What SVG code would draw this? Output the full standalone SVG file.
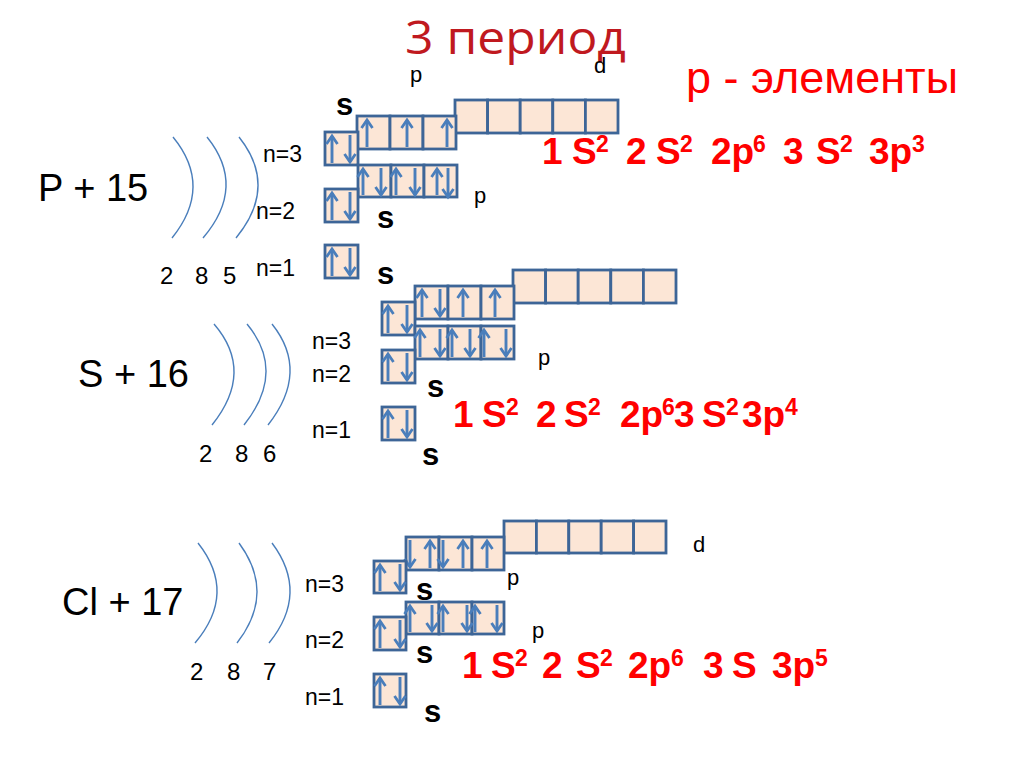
<svg xmlns="http://www.w3.org/2000/svg" width="1024" height="767" viewBox="0 0 1024 767">
<defs>
<marker id="ah" markerUnits="userSpaceOnUse" viewBox="-11 -8 14 16" markerWidth="14" markerHeight="16" refX="0" refY="0" orient="auto">
<path d="M-8,-5.5 L0,0 L-8,5.5" fill="none" stroke="#4A7EBB" stroke-width="2.8" stroke-linejoin="miter"/>
</marker>
</defs>
<style>
.bx{fill:#FCE6D6;stroke:#3D6597;stroke-width:2.8}
.ar{stroke:#4A7EBB;stroke-width:2.9;marker-end:url(#ah)}
.arc{fill:none;stroke:#4A7EBB;stroke-width:1.4}
.el{font-family:"Liberation Sans",Arial,sans-serif;font-size:38px;fill:#000}
.num{font-family:"Liberation Sans",Arial,sans-serif;font-size:24px;fill:#000}
.n{font-family:"Liberation Sans",Arial,sans-serif;font-size:23px;fill:#000}
.sl{font-family:"Liberation Sans",Arial,sans-serif;font-size:31px;font-weight:bold;fill:#000}
.pl{font-family:"Liberation Sans",Arial,sans-serif;font-size:22px;fill:#000}
.f{font-family:"Liberation Sans",Arial,sans-serif;font-size:37px;font-weight:bold;fill:#FF0000}
.fs{font-family:"Liberation Sans",Arial,sans-serif;font-size:23px;font-weight:bold;fill:#FF0000}
</style>
<rect width="1024" height="767" fill="#fff"/>
<g id="title">
<text x="405" y="54" font-family="'Open Sans','Noto Sans',sans-serif" font-size="45" fill="#C0191F" textLength="221" lengthAdjust="spacingAndGlyphs">3 период</text>
<text x="686" y="93" font-family="'Liberation Sans',Arial,sans-serif" font-size="44" fill="#FF0000" textLength="272" lengthAdjust="spacingAndGlyphs">p - элементы</text>
</g>
<g id="shells">
<path class="arc" d="M173,137 Q213.5,186.5 172,238"/>
<path class="arc" d="M207,137 Q247,186.5 203,238"/>
<path class="arc" d="M239,137 Q278.5,186.5 236,238"/>
<path class="arc" d="M214,324 Q255,371.5 212,425"/>
<path class="arc" d="M247,324 Q286.5,371.5 244,425"/>
<path class="arc" d="M272,324 Q310,371.5 268,425"/>
<path class="arc" d="M198,543 Q237.5,593 195,643"/>
<path class="arc" d="M239,543 Q276,593 237,643"/>
<path class="arc" d="M272,543 Q309.5,593 269,643"/>
</g>
<g id="atom-P">
<text class="el" x="38" y="201">P + 15</text>
<text class="num" x="160" y="284">2</text><text class="num" x="195" y="284">8</text><text class="num" x="223" y="284">5</text>
<text class="n" x="263" y="162">n=3</text>
<text class="n" x="256" y="219">n=2</text>
<text class="n" x="256" y="276">n=1</text>
<g id="P-3d">
<rect class="bx" x="455" y="100" width="32.6" height="33"/>
<rect class="bx" x="487.6" y="100" width="32.6" height="33"/>
<rect class="bx" x="520.2" y="100" width="32.6" height="33"/>
<rect class="bx" x="552.8" y="100" width="32.6" height="33"/>
<rect class="bx" x="585.4" y="100" width="32.6" height="33"/>
</g>
<g id="P-3p">
<rect class="bx" x="357" y="116" width="33" height="33"/>
<rect class="bx" x="390" y="116" width="33" height="33"/>
<rect class="bx" x="423" y="116" width="33" height="33"/>
<line class="ar" x1="367" y1="147" x2="367" y2="120"/>
<line class="ar" x1="407" y1="147" x2="407" y2="120"/>
<line class="ar" x1="447" y1="147" x2="447" y2="120"/>
</g>
<g id="P-3s">
<rect class="bx" x="325" y="132" width="33" height="33"/>
<line class="ar" x1="332" y1="163" x2="332" y2="136"/>
<line class="ar" x1="350" y1="135" x2="350" y2="162"/>
</g>
<g id="P-2p">
<rect class="bx" x="358" y="165" width="33" height="32"/>
<rect class="bx" x="391" y="165" width="33" height="32"/>
<rect class="bx" x="424" y="165" width="33" height="32"/>
<line class="ar" x1="363" y1="195" x2="363" y2="169"/>
<line class="ar" x1="381" y1="168" x2="381" y2="195"/>
<line class="ar" x1="396" y1="195" x2="396" y2="169"/>
<line class="ar" x1="415" y1="168" x2="415" y2="195"/>
<line class="ar" x1="437" y1="195" x2="437" y2="169"/>
<line class="ar" x1="448" y1="168" x2="448" y2="197"/>
</g>
<g id="P-2s">
<rect class="bx" x="325" y="189" width="33" height="33"/>
<line class="ar" x1="332" y1="220" x2="332" y2="193"/>
<line class="ar" x1="350" y1="192" x2="350" y2="219"/>
</g>
<g id="P-1s">
<rect class="bx" x="325" y="245" width="33" height="33"/>
<line class="ar" x1="332" y1="276" x2="332" y2="249"/>
<line class="ar" x1="350" y1="248" x2="350" y2="275"/>
</g>
<text class="pl" x="410" y="82">p</text>
<text class="pl" x="594" y="73">d</text>
<text class="sl" x="336" y="115">s</text>
<text class="pl" x="474" y="203">p</text>
<text class="sl" x="377" y="228">s</text>
<text class="sl" x="377" y="284">s</text>
<text class="f" y="164"><tspan x="542">1</tspan><tspan x="572">S</tspan><tspan class="fs" x="596" y="152">2</tspan><tspan x="626" y="164">2</tspan><tspan x="656">S</tspan><tspan class="fs" x="680" y="152">2</tspan><tspan x="711" y="164">2p</tspan><tspan class="fs" x="753" y="152">6</tspan><tspan x="783" y="164">3</tspan><tspan x="816">S</tspan><tspan class="fs" x="840" y="152">2</tspan><tspan x="869" y="164">3p</tspan><tspan class="fs" x="912" y="152">3</tspan></text>
</g>
<g id="atom-S">
<text class="el" x="78" y="387">S + 16</text>
<text class="num" x="199" y="462">2</text><text class="num" x="235" y="462">8</text><text class="num" x="263" y="462">6</text>
<text class="n" x="312" y="349">n=3</text>
<text class="n" x="312" y="382">n=2</text>
<text class="n" x="312" y="438">n=1</text>
<g id="S-3d">
<rect class="bx" x="513" y="270" width="32.6" height="33"/>
<rect class="bx" x="545.6" y="270" width="32.6" height="33"/>
<rect class="bx" x="578.2" y="270" width="32.6" height="33"/>
<rect class="bx" x="610.8" y="270" width="32.6" height="33"/>
<rect class="bx" x="643.4" y="270" width="32.6" height="33"/>
</g>
<g id="S-3p">
<rect class="bx" x="415" y="286" width="33" height="33"/>
<rect class="bx" x="448" y="286" width="33" height="33"/>
<rect class="bx" x="481" y="286" width="33" height="33"/>
<line class="ar" x1="422" y1="317" x2="422" y2="290"/>
<line class="ar" x1="440" y1="289" x2="440" y2="316"/>
<line class="ar" x1="463" y1="317" x2="463" y2="290"/>
<line class="ar" x1="495" y1="317" x2="495" y2="290"/>
</g>
<g id="S-3s">
<rect class="bx" x="382" y="302" width="33" height="33"/>
<line class="ar" x1="388" y1="333" x2="388" y2="306"/>
<line class="ar" x1="407" y1="305" x2="407" y2="332"/>
</g>
<g id="S-2p">
<rect class="bx" x="415" y="326" width="33" height="33"/>
<rect class="bx" x="448" y="326" width="33" height="33"/>
<rect class="bx" x="481" y="326" width="33" height="33"/>
<line class="ar" x1="420" y1="357" x2="420" y2="330"/>
<line class="ar" x1="440" y1="329" x2="440" y2="356"/>
<line class="ar" x1="452" y1="357" x2="452" y2="330"/>
<line class="ar" x1="470" y1="329" x2="470" y2="356"/>
<line class="ar" x1="484" y1="357" x2="484" y2="330"/>
<line class="ar" x1="506" y1="329" x2="506" y2="356"/>
</g>
<g id="S-2s">
<rect class="bx" x="382" y="350" width="33" height="33"/>
<line class="ar" x1="388" y1="381" x2="388" y2="354"/>
<line class="ar" x1="407" y1="353" x2="407" y2="380"/>
</g>
<g id="S-1s">
<rect class="bx" x="382" y="407" width="33" height="33"/>
<line class="ar" x1="388" y1="438" x2="388" y2="411"/>
<line class="ar" x1="407" y1="410" x2="407" y2="437"/>
</g>
<text class="pl" x="538" y="365">p</text>
<text class="sl" x="427" y="397">s</text>
<text class="sl" x="422" y="465">s</text>
<text class="f" y="427"><tspan x="453">1</tspan><tspan x="482">S</tspan><tspan class="fs" x="506" y="415">2</tspan><tspan x="536" y="427">2</tspan><tspan x="564">S</tspan><tspan class="fs" x="588" y="415">2</tspan><tspan x="620" y="427">2p</tspan><tspan class="fs" x="662" y="415">6</tspan><tspan x="674" y="427">3</tspan><tspan x="702">S</tspan><tspan class="fs" x="726" y="415">2</tspan><tspan x="742" y="427">3p</tspan><tspan class="fs" x="785" y="415">4</tspan></text>
</g>
<g id="atom-Cl">
<text class="el" x="62" y="615">Cl + 17</text>
<text class="num" x="190" y="680">2</text><text class="num" x="227" y="680">8</text><text class="num" x="263" y="680">7</text>
<text class="n" x="305" y="592">n=3</text>
<text class="n" x="305" y="648">n=2</text>
<text class="n" x="305" y="705">n=1</text>
<g id="Cl-3d">
<rect class="bx" x="504" y="521" width="32.4" height="32"/>
<rect class="bx" x="536.4" y="521" width="32.4" height="32"/>
<rect class="bx" x="568.8" y="521" width="32.4" height="32"/>
<rect class="bx" x="601.2" y="521" width="32.4" height="32"/>
<rect class="bx" x="633.6" y="521" width="32.4" height="32"/>
</g>
<g id="Cl-3p">
<rect class="bx" x="406" y="537" width="33" height="33"/>
<rect class="bx" x="439" y="537" width="33" height="33"/>
<rect class="bx" x="472" y="537" width="32" height="33"/>
<line class="ar" x1="410" y1="540" x2="410" y2="567"/>
<line class="ar" x1="430" y1="568" x2="430" y2="541"/>
<line class="ar" x1="443" y1="540" x2="443" y2="567"/>
<line class="ar" x1="463" y1="568" x2="463" y2="541"/>
<line class="ar" x1="487" y1="568" x2="487" y2="541"/>
</g>
<g id="Cl-3s">
<rect class="bx" x="374" y="561" width="32" height="32"/>
<line class="ar" x1="380" y1="591" x2="380" y2="565"/>
<line class="ar" x1="400" y1="564" x2="400" y2="590"/>
</g>
<g id="Cl-2p">
<rect class="bx" x="406" y="602" width="33" height="32"/>
<rect class="bx" x="439" y="602" width="33" height="32"/>
<rect class="bx" x="472" y="602" width="32" height="32"/>
<line class="ar" x1="410" y1="632" x2="410" y2="606"/>
<line class="ar" x1="432" y1="605" x2="432" y2="631"/>
<line class="ar" x1="443" y1="632" x2="443" y2="606"/>
<line class="ar" x1="467" y1="605" x2="467" y2="631"/>
<line class="ar" x1="475" y1="632" x2="475" y2="606"/>
<line class="ar" x1="497" y1="605" x2="497" y2="631"/>
</g>
<g id="Cl-2s">
<rect class="bx" x="374" y="617" width="32" height="33"/>
<line class="ar" x1="380" y1="648" x2="380" y2="621"/>
<line class="ar" x1="400" y1="620" x2="400" y2="647"/>
</g>
<g id="Cl-1s">
<rect class="bx" x="374" y="674" width="32" height="33"/>
<line class="ar" x1="380" y1="705" x2="380" y2="678"/>
<line class="ar" x1="400" y1="677" x2="400" y2="704"/>
</g>
<text class="pl" x="693" y="552">d</text>
<text class="pl" x="507" y="585">p</text>
<text class="sl" x="416" y="600">s</text>
<text class="pl" x="532" y="638">p</text>
<text class="sl" x="416" y="663">s</text>
<text class="sl" x="424" y="722">s</text>
<text class="f" y="678"><tspan x="462">1</tspan><tspan x="491">S</tspan><tspan class="fs" x="515" y="666">2</tspan><tspan x="542" y="678">2</tspan><tspan x="576">S</tspan><tspan class="fs" x="600" y="666">2</tspan><tspan x="628" y="678">2p</tspan><tspan class="fs" x="671" y="666">6</tspan><tspan x="703" y="678">3</tspan><tspan x="732">S</tspan><tspan x="772">3p</tspan><tspan class="fs" x="815" y="666">5</tspan></text>
</g>
</svg>
